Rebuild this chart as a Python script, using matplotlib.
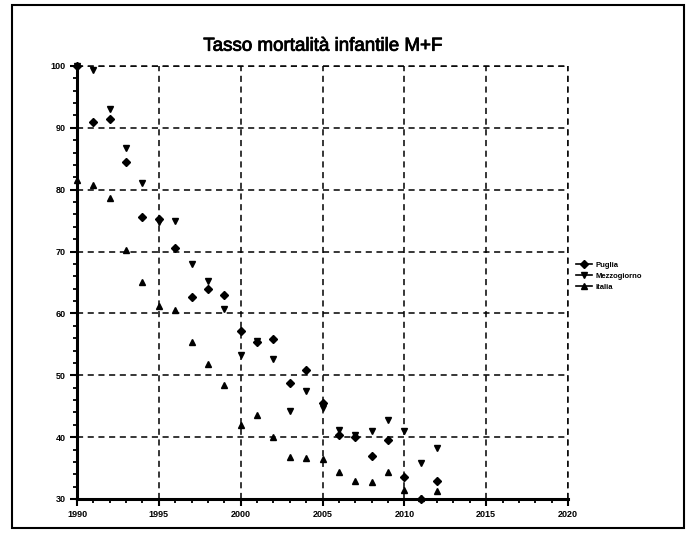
import matplotlib.pyplot as plt
import numpy as np
from matplotlib.ticker import MultipleLocator
from matplotlib.patches import Rectangle
import matplotlib.patheffects as pe

plt.rcParams['font.family'] = ['Liberation Sans', 'DejaVu Sans']

anni = list(range(1990, 2013))

# tasso mortalita' infantile (per 10.000 nati vivi)
puglia = [100, 91.0, 91.5, 84.5, 75.6, 75.3, 70.5, 62.7, 64.0, 62.9, 57.2, 55.3,
          55.8, 48.8, 50.8, 45.5, 40.3, 40.0, 37.0, 39.5, 33.6, 30.0, 32.9]
mezzogiorno = [100, 99.4, 93.0, 86.8, 81.1, 74.8, 75.0, 68.0, 65.3, 60.7, 53.3, 55.6,
               52.7, 44.2, 47.5, 44.7, 41.2, 40.3, 41.0, 42.8, 41.0, 35.8, 38.2]
italia = [81.5, 80.8, 78.7, 70.3, 65.0, 61.2, 60.5, 55.3, 51.8, 48.5, 42.0, 43.5,
          40.0, 36.8, 36.7, 36.4, 34.3, 32.9, 32.8, 34.3, 31.4, 30.2, 31.3]

serie = [('Puglia', puglia, 'D', 4.0),
         ('Mezzogiorno', mezzogiorno, 'v', 5.0),
         ('Italia', italia, '^', 5.0)]

fig = plt.figure(figsize=(6.89, 5.33), dpi=100)
ax = fig.add_axes([0.1118, 0.0638, 0.7126, 0.8124])

for nome, valori, mk, ms in serie:
    ax.plot(anni, valori, linestyle='none', marker=mk, markersize=ms,
            color='black', label=nome, clip_on=False, zorder=3)

ax.set_xlim(1990, 2020)
ax.set_ylim(30, 100)
ax.xaxis.set_major_locator(MultipleLocator(5))
ax.xaxis.set_minor_locator(MultipleLocator(1))
ax.yaxis.set_major_locator(MultipleLocator(10))
ax.yaxis.set_minor_locator(MultipleLocator(2))

ax.grid(True, which='major', color='black', linestyle=(0, (4, 3)), linewidth=1.1)
ax.spines['top'].set_visible(False)
ax.spines['right'].set_visible(False)
ax.spines['left'].set_linewidth(2.2)
ax.spines['bottom'].set_linewidth(2.2)
# griglia tratteggiata anche sui bordi superiore e destro
ax.axhline(100, color='black', linestyle=(0, (4, 3)), linewidth=1.1, clip_on=False)
ax.axvline(2020, color='black', linestyle=(0, (4, 3)), linewidth=1.1, clip_on=False)

ax.tick_params(which='major', direction='out', length=5, width=1.5, labelsize=6.5, pad=3)
ax.tick_params(which='minor', direction='out', length=3, width=1.3)
for lab in ax.get_xticklabels() + ax.get_yticklabels():
    lab.set_fontweight('bold')

titolo = ax.set_title('Tasso mortalità infantile M+F', fontsize=13.5, pad=11)
titolo.set_path_effects([pe.withStroke(linewidth=0.6, foreground='black')])

leg = ax.legend(loc='center left', bbox_to_anchor=(1.0, 0.515), frameon=False,
                fontsize=5.5, handlelength=2.2, handletextpad=0.4, labelspacing=0.5,
                borderaxespad=0.6)
for h in leg.legend_handles:
    h.set_linestyle('-')
    h.set_linewidth(1.2)
for t in leg.get_texts():
    t.set_fontweight('bold')

# cornice esterna della figura
fig.patches.append(Rectangle((12 / 689, 5 / 533), 672 / 689, 523 / 533,
                             transform=fig.transFigure, fill=False,
                             edgecolor='black', linewidth=1.5))

fig.savefig('out.png', dpi=100)
